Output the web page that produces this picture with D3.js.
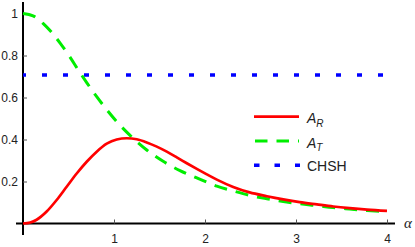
<!DOCTYPE html>
<html><head><meta charset="utf-8">
<script src="https://cdn.jsdelivr.net/npm/d3@7"></script>
<style>
body{margin:0;background:#fff;}
svg{display:block;font-family:"Liberation Sans",Arial,sans-serif;}
</style></head><body>
<svg id="c" width="415" height="247"></svg>
<script>
// Data
const alphaR = [0,0.08,0.15,0.26,0.37,0.48,0.59,0.70,0.81,0.92,1.03,1.14,1.25,1.36,1.47,1.58,1.69,1.80,1.91,2.02,2.13,2.31,2.49,2.68,2.86,3.04,3.23,3.41,3.59,3.78,4.0];
const valuesR = [0,0.005,0.018,0.057,0.112,0.175,0.238,0.294,0.342,0.380,0.400,0.406,0.401,0.386,0.366,0.342,0.315,0.287,0.260,0.234,0.209,0.174,0.148,0.130,0.115,0.102,0.091,0.081,0.073,0.066,0.060];
const alphaT = [0,0.11,0.22,0.315,0.41,0.52,0.61,0.70,0.81,0.92,1.03,1.14,1.23,1.36,1.54,1.725,1.91,2.13,2.31,2.49,2.68,2.86,3.04,3.23,3.41,3.59,3.78,4.0];
const valuesT = [1.0,0.989,0.953,0.910,0.858,0.790,0.729,0.671,0.604,0.542,0.485,0.435,0.398,0.350,0.296,0.252,0.217,0.178,0.155,0.134,0.118,0.105,0.094,0.085,0.076,0.069,0.062,0.056];
const chshValue = 0.7071;
const xTicks = [1,2,3,4];
const yTicks = [0.2,0.4,0.6,0.8,1];
const legendLabels = ["R","T","CHSH"];

const svg = d3.select("#c");
const x = d3.scaleLinear().domain([0,4]).range([23,387]);
const y = d3.scaleLinear().domain([0,1]).range([223.5,13.5]);

// axes
svg.append("line").attr("x1",16).attr("x2",395).attr("y1",y(0)).attr("y2",y(0)).attr("stroke","#000").attr("stroke-width",2);
svg.append("line").attr("x1",x(0)).attr("x2",x(0)).attr("y1",2).attr("y2",235).attr("stroke","#000").attr("stroke-width",2);

const gx = svg.append("g").attr("transform",`translate(0,${y(0)})`)
  .call(d3.axisBottom(x).tickValues(xTicks).tickSizeInner(-4).tickSizeOuter(0).tickPadding(10.5).tickFormat(d3.format("d")));
gx.select(".domain").remove();
gx.selectAll("line").attr("stroke","#555").attr("stroke-width",1);
gx.selectAll("text").attr("font-size",12).attr("fill","#222").attr("font-family","Liberation Sans, Arial, sans-serif");

const gy = svg.append("g").attr("transform",`translate(${x(0)},0)`)
  .call(d3.axisLeft(y).tickValues(yTicks).tickSizeInner(-4).tickSizeOuter(0).tickPadding(5).tickFormat(d=> d===1?"1":d3.format(".1f")(d)));
gy.select(".domain").remove();
gy.selectAll("line").attr("stroke","#555").attr("stroke-width",1);
gy.selectAll("text").attr("font-size",12).attr("fill","#222").attr("font-family","Liberation Sans, Arial, sans-serif");

svg.append("text").attr("x",404).attr("y",228).attr("font-size",15).attr("font-style","italic")
  .attr("font-family","Liberation Serif, Times New Roman, serif").attr("fill","#222").text("α");

// curves
const line = d3.line().x(d=>x(d[0])).y(d=>y(d[1])).curve(d3.curveMonotoneX);
svg.append("line").attr("x1",x(0)).attr("x2",x(4)).attr("y1",y(chshValue)).attr("y2",y(chshValue))
  .attr("stroke","#0000ff").attr("stroke-width",3.5).attr("stroke-dasharray","5,16").attr("stroke-dashoffset",2);
svg.append("path").datum(alphaT.map((a,i)=>[a,valuesT[i]])).attr("d",line)
  .attr("fill","none").attr("stroke","#00ee00").attr("stroke-width",3).attr("stroke-dasharray","13,9");
svg.append("path").datum(alphaR.map((a,i)=>[a,valuesR[i]])).attr("d",line)
  .attr("fill","none").attr("stroke","#ff0000").attr("stroke-width",2.7);

// legend
const leg = svg.append("g");
const ly = [116.7,141,165.3];
leg.append("line").attr("x1",254).attr("x2",299).attr("y1",ly[0]).attr("y2",ly[0]).attr("stroke","#ff0000").attr("stroke-width",2.7);
leg.append("line").attr("x1",255).attr("x2",299).attr("y1",ly[1]).attr("y2",ly[1]).attr("stroke","#00ee00").attr("stroke-width",3).attr("stroke-dasharray","12.5,9");
leg.append("line").attr("x1",254).attr("x2",300).attr("y1",ly[2]).attr("y2",ly[2]).attr("stroke","#0000ff").attr("stroke-width",3.5).attr("stroke-dasharray","5.5,15");
[0,1].forEach(i=>{
  const t = leg.append("text").attr("x",307).attr("y",ly[i]+6.5).attr("font-size",14).attr("fill","#222").attr("font-style","italic");
  t.append("tspan").text("A");
  t.append("tspan").attr("font-size",10).attr("dy",3.5).text(legendLabels[i]);
});
leg.append("text").attr("x",307).attr("y",ly[2]+5.3).attr("font-size",14).attr("fill","#222").text(legendLabels[2]);
</script>
</body></html>
